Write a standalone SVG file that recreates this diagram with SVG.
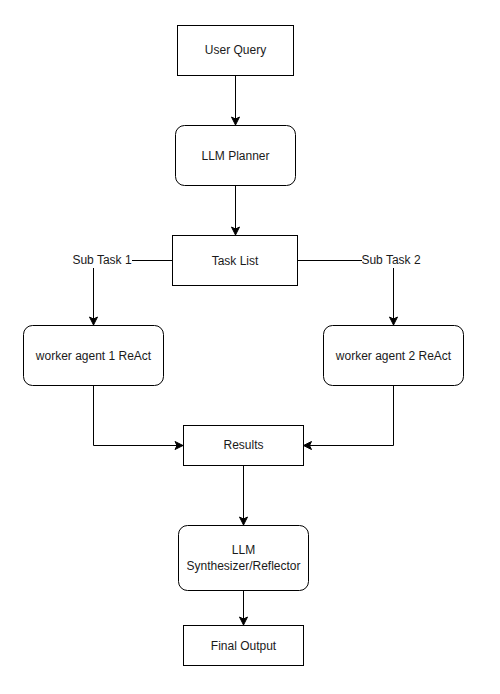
<svg xmlns="http://www.w3.org/2000/svg" width="500" height="694" viewBox="0 0 500 694">
<style>
.box{fill:#ffffff;stroke:#000000;stroke-width:1}
.lbl{font-family:"Liberation Sans",Arial,sans-serif;font-size:12px;fill:#1a1a1a;text-anchor:middle;dominant-baseline:central}
.edge{fill:none;stroke:#000000;stroke-width:1}
</style>
<defs>
<marker id="arr" markerUnits="userSpaceOnUse" markerWidth="12" markerHeight="12" viewBox="-10 -6 12 12" refX="0" refY="0" orient="auto">
<path d="M-8,-4 L0,0 L-8,4 L-6,0 Z" fill="#000000" stroke="#000000" stroke-width="1"/>
</marker>
</defs>
<rect width="500" height="694" fill="#ffffff"/>
<g id="connectors">
<path class="edge" d="M235.5,75.5 L235.5,125" marker-end="url(#arr)"/>
<path class="edge" d="M235.5,185.5 L235.5,235" marker-end="url(#arr)"/>
<path class="edge" d="M172.5,260.5 L132,260.5"/>
<path class="edge" d="M93.5,268 L93.5,325" marker-end="url(#arr)"/>
<path class="edge" d="M297.5,260.5 L362,260.5"/>
<path class="edge" d="M393.5,268 L393.5,325" marker-end="url(#arr)"/>
<path class="edge" d="M93.5,385.5 L93.5,445.5 L183,445.5" marker-end="url(#arr)"/>
<path class="edge" d="M393.5,385.5 L393.5,445.5 L303.5,445.5" marker-end="url(#arr)"/>
<path class="edge" d="M243.5,465.5 L243.5,525" marker-end="url(#arr)"/>
<path class="edge" d="M243.5,590.5 L243.5,625" marker-end="url(#arr)"/>
<text class="lbl" x="102" y="260">Sub Task 1</text>
<text class="lbl" x="391" y="260">Sub Task 2</text>
</g>
<g id="user-query">
<rect class="box" x="177.5" y="25.5" width="116" height="50"/>
<text class="lbl" x="235.5" y="50">User Query</text>
</g>
<g id="llm-planner">
<rect class="box" x="175.5" y="125.5" width="120" height="60" rx="9" ry="9"/>
<text class="lbl" x="235.5" y="155.5">LLM Planner</text>
</g>
<g id="task-list">
<rect class="box" x="172.5" y="235.5" width="125" height="50"/>
<text class="lbl" x="235" y="260.5">Task List</text>
</g>
<g id="worker-1">
<rect class="box" x="23.5" y="325.5" width="140" height="60" rx="9" ry="9"/>
<text class="lbl" x="93.5" y="355.5">worker agent 1 ReAct</text>
</g>
<g id="worker-2">
<rect class="box" x="323.5" y="325.5" width="140" height="60" rx="9" ry="9"/>
<text class="lbl" x="393.5" y="355.5">worker agent 2 ReAct</text>
</g>
<g id="results">
<rect class="box" x="183.5" y="425.5" width="120" height="40"/>
<text class="lbl" x="243.5" y="445">Results</text>
</g>
<g id="synthesizer">
<rect class="box" x="178.5" y="525.5" width="130" height="65" rx="9" ry="9"/>
<text class="lbl" x="243.5" y="550">LLM</text>
<text class="lbl" x="243.5" y="566">Synthesizer/Reflector</text>
</g>
<g id="final-output">
<rect class="box" x="183.5" y="625.5" width="120" height="40"/>
<text class="lbl" x="243.5" y="645.5">Final Output</text>
</g>
</svg>
